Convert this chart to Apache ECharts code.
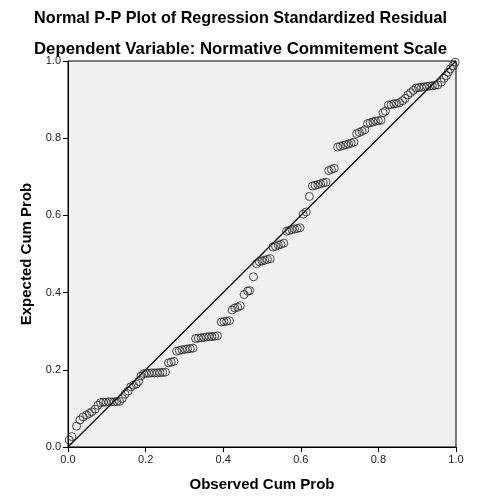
<!DOCTYPE html>
<html>
<head>
<meta charset="utf-8">
<script src="https://cdn.jsdelivr.net/npm/echarts@6/dist/echarts.min.js"></script>
<style>
html,body{margin:0;padding:0;background:#fff;}
#chart{width:481px;height:498px;}
</style>
</head>
<body>
<div id="chart"></div>
<script>
var titleText = 'Normal P-P Plot of Regression Standardized Residual';
var subtitleText = 'Dependent Variable: Normative Commitement Scale';
var xAxisName = 'Observed Cum Prob';
var yAxisName = 'Expected Cum Prob';
var tickValues = [0.0, 0.2, 0.4, 0.6, 0.8, 1.0];

var obsCum = [
0.003,0.010,0.022,0.031,0.039,0.048,0.055,0.061,0.070,0.077,
0.084,0.091,0.098,0.105,0.112,0.119,0.126,0.133,
0.140,0.147,0.155,0.162,0.169,0.176,0.182,0.188,
0.195,0.202,0.209,0.216,0.223,0.230,0.237,0.244,0.251,
0.259,0.266,0.273,
0.280,0.287,0.294,0.301,0.308,0.315,0.322,
0.329,0.336,0.343,0.350,0.357,0.364,0.371,0.378,0.385,
0.395,0.402,0.409,0.416,
0.423,0.430,0.437,0.444,
0.454,0.463,0.468,
0.478,0.486,
0.493,0.500,0.507,0.514,0.521,
0.528,0.535,0.542,0.549,0.556,
0.563,0.570,0.577,0.584,0.591,0.598,
0.606,0.614,0.622,
0.630,0.637,0.644,0.651,0.658,0.665,
0.672,0.679,0.686,
0.695,0.702,0.709,0.716,0.723,0.730,0.737,
0.744,0.751,0.758,0.765,
0.772,0.779,0.786,0.793,0.800,0.807,
0.812,0.818,
0.826,0.833,0.840,0.847,0.854,
0.862,0.869,0.876,0.883,0.890,
0.897,0.904,0.911,0.918,0.925,0.932,0.939,0.946,0.953,
0.962,0.969,0.975,0.980,0.986,0.993,0.998];

var expCum = [
0.018,0.027,0.054,0.070,0.078,0.083,0.087,0.091,0.098,0.108,
0.115,0.116,0.116,0.117,0.117,0.117,0.118,0.118,
0.126,0.137,0.145,0.156,0.160,0.163,0.170,0.184,
0.190,0.191,0.191,0.192,0.192,0.192,0.193,0.193,0.194,
0.218,0.220,0.222,
0.248,0.250,0.252,0.253,0.254,0.255,0.256,
0.281,0.282,0.283,0.284,0.285,0.286,0.286,0.287,0.288,
0.324,0.325,0.326,0.327,
0.355,0.360,0.362,0.366,
0.395,0.404,0.405,
0.441,0.475,
0.480,0.482,0.484,0.486,0.488,
0.518,0.520,0.523,0.525,0.528,
0.559,0.561,0.563,0.565,0.566,0.568,
0.603,0.609,0.649,
0.676,0.678,0.680,0.682,0.684,0.686,
0.716,0.719,0.722,
0.777,0.779,0.781,0.783,0.785,0.787,0.790,
0.812,0.815,0.818,0.822,
0.838,0.840,0.842,0.844,0.845,0.847,
0.866,0.870,
0.886,0.887,0.889,0.890,0.892,
0.897,0.903,0.912,0.918,0.924,
0.930,0.931,0.932,0.933,0.934,0.935,0.936,0.937,0.938,
0.945,0.955,0.962,0.971,0.980,0.988,0.997];

var refLineX = [0, 1];
var refLineY = [0, 1];

var points = [];
for (var i = 0; i < Math.min(obsCum.length, expCum.length); i++) {
  points.push([obsCum[i], expCum[i]]);
}
var refLine = [];
for (var j = 0; j < refLineX.length; j++) refLine.push([refLineX[j], refLineY[j]]);

var font = '"Liberation Sans", Arial, sans-serif';
var chart = echarts.init(document.getElementById('chart'), null, {renderer: 'canvas'});
var axisCommon = {
  type: 'value', min: 0, max: 1, interval: 0.2,
  nameLocation: 'middle',
  nameTextStyle: {fontFamily: font, fontSize: 15, fontWeight: 'bold', color: '#000'},
  axisLine: {show: true, lineStyle: {color: '#000', width: 1}},
  axisTick: {show: true, length: 5, lineStyle: {color: '#000', width: 1}},
  axisLabel: {fontFamily: font, fontSize: 11, color: '#222',
    formatter: function (v) { return v.toFixed(1); }},
  splitLine: {show: false}
};
chart.setOption({
  animation: false,
  backgroundColor: '#fff',
  title: [
    {text: titleText, left: 'center', top: 6,
     textStyle: {fontFamily: font, fontSize: 16.2, fontWeight: 'bold', color: '#000'}},
    {text: subtitleText, left: 'center', top: 36,
     textStyle: {fontFamily: font, fontSize: 16.8, fontWeight: 'bold', color: '#000'}}
  ],
  grid: {left: 68, right: 25, top: 61, bottom: 51, show: true,
    backgroundColor: '#f0f0f0', borderColor: '#000', borderWidth: 1, containLabel: false},
  xAxis: Object.assign({}, axisCommon, {name: xAxisName, nameGap: 30,
    axisLabel: Object.assign({}, axisCommon.axisLabel, {margin: 7})}),
  yAxis: Object.assign({}, axisCommon, {name: yAxisName, nameGap: 25,
    axisLabel: Object.assign({}, axisCommon.axisLabel, {margin: 7})}),
  series: [
    {type: 'line', data: refLine, symbol: 'none', silent: true,
     lineStyle: {color: '#000', width: 1.2}, z: 2},
    {type: 'scatter', data: points, symbol: 'circle', symbolSize: 8,
     itemStyle: {color: 'rgba(0,0,0,0)', borderColor: '#222', borderWidth: 1}, z: 3}
  ]
});
</script>
</body>
</html>
